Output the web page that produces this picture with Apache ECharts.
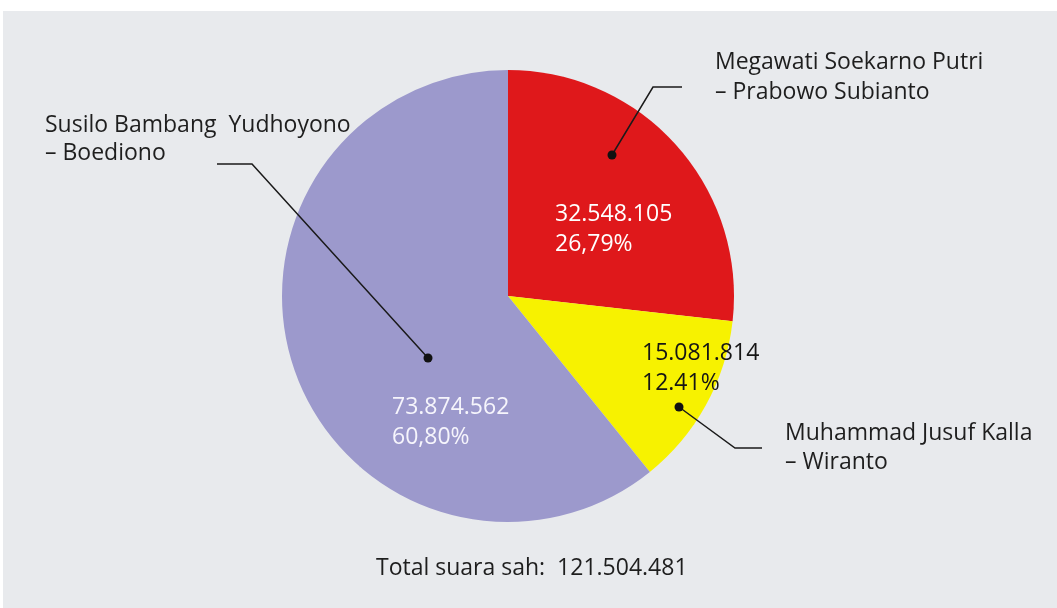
<!DOCTYPE html>
<html>
<head>
<meta charset="utf-8">
<script src="https://cdn.jsdelivr.net/npm/echarts@6/dist/echarts.min.js"></script>
<style>
html, body { margin: 0; padding: 0; background: #fff; }
#bg { position: absolute; left: 3px; top: 11px; right: 0; bottom: 0; background: #e8eaed; }
#chart { position: absolute; left: 0; top: 0; width: 1057px; height: 608px; }
</style>
</head>
<body>
<div id="bg"></div>
<div id="chart"></div>
<script>
// data
const candidates = [
  'Megawati Soekarno Putri\n– Prabowo Subianto',
  'Muhammad Jusuf Kalla\n– Wiranto',
  'Susilo Bambang  Yudhoyono\n– Boediono'
]
const votes = [32548105, 15081814, 73874562]
const percentLabels = ['26,79%', '12.41%', '60,80%']

// look
const sliceColors = ['#df181b', '#f7f200', '#9c99cc']
const valueColors = ['#ffffff', '#151515', '#f6f5fc']
const FONT = '"Open Sans", "Noto Sans", sans-serif'
const CX = 508, CY = 296, R = 226

// label spots, pixels from the pie centre
const valuePos = [[47, -97], [134, 42], [-116, 96]]
const namePos = [[207, -249], [277, 123], [-463, -185]]
const nameLineHeight = [30, 29, 28]
const leaders = [
  [[104, -141], [145, -209], [174, -209]],
  [[171, 111], [227, 152], [254, 152]],
  [[-80, 62], [-256, -132], [-291, -132]]
]

const fmt = n => String(n).replace(/\B(?=(\d{3})+(?!\d))/g, '.')
const total = votes.reduce((a, b) => a + b, 0)
const abs = p => [CX + p[0], CY + p[1]]

const data = votes.map((v, i) => ({ name: candidates[i], value: v }))

const chart = echarts.init(document.getElementById('chart'))
chart.setOption({
  animation: false,
  title: {
    text: 'Total suara sah:  ' + fmt(total),
    left: 371,
    top: 552,
    textStyle: { fontFamily: FONT, fontSize: 23, fontWeight: 'normal', color: '#1e1e1e' }
  },
  series: [
    {
      type: 'pie',
      z: 2,
      center: [CX, CY],
      radius: [0, R],
      startAngle: 90,
      clockwise: true,
      silent: true,
      itemStyle: { borderWidth: 0 },
      data: data.map((d, i) => ({
        ...d,
        itemStyle: { color: sliceColors[i] },
        label: { color: valueColors[i] }
      })),
      label: {
        show: true,
        position: 'inside',
        fontFamily: FONT,
        fontSize: 23,
        lineHeight: 30,
        align: 'left',
        overflow: 'none',
        formatter: p => fmt(p.value) + '\n' + percentLabels[p.dataIndex]
      },
      labelLayout: p => {
        const [x, y] = abs(valuePos[p.dataIndex])
        return { x, y, align: 'left', verticalAlign: 'top' }
      }
    },
    {
      // candidate names with leader lines
      type: 'pie',
      z: 3,
      center: [CX, CY],
      radius: [0, R],
      silent: true,
      itemStyle: { color: 'transparent', borderWidth: 0 },
      data: data.map((d, i) => ({ ...d, label: { lineHeight: nameLineHeight[i] } })),
      label: {
        show: true,
        position: 'outside',
        fontFamily: FONT,
        fontSize: 23,
        color: '#1e1e1e',
        align: 'left',
        overflow: 'none',
        width: 400,
        formatter: p => p.name
      },
      labelLine: { show: true, lineStyle: { color: '#1a1a1a', width: 1.5 } },
      labelLayout: p => {
        const [x, y] = abs(namePos[p.dataIndex])
        return {
          x, y, align: 'left', verticalAlign: 'top',
          labelLinePoints: leaders[p.dataIndex].map(abs)
        }
      }
    },
    {
      // dots at the inner end of each leader
      type: 'pie',
      z: 4,
      center: [CX, CY],
      radius: [0, R],
      silent: true,
      itemStyle: { color: 'transparent', borderWidth: 0 },
      data: data,
      label: {
        show: true,
        position: 'inside',
        formatter: '{d|}',
        rich: { d: { width: 9, height: 9, borderRadius: 5, backgroundColor: '#111' } }
      },
      labelLayout: p => {
        const [x, y] = abs(leaders[p.dataIndex][0])
        return { x, y, align: 'center', verticalAlign: 'middle' }
      }
    }
  ]
})
</script>
</body>
</html>
